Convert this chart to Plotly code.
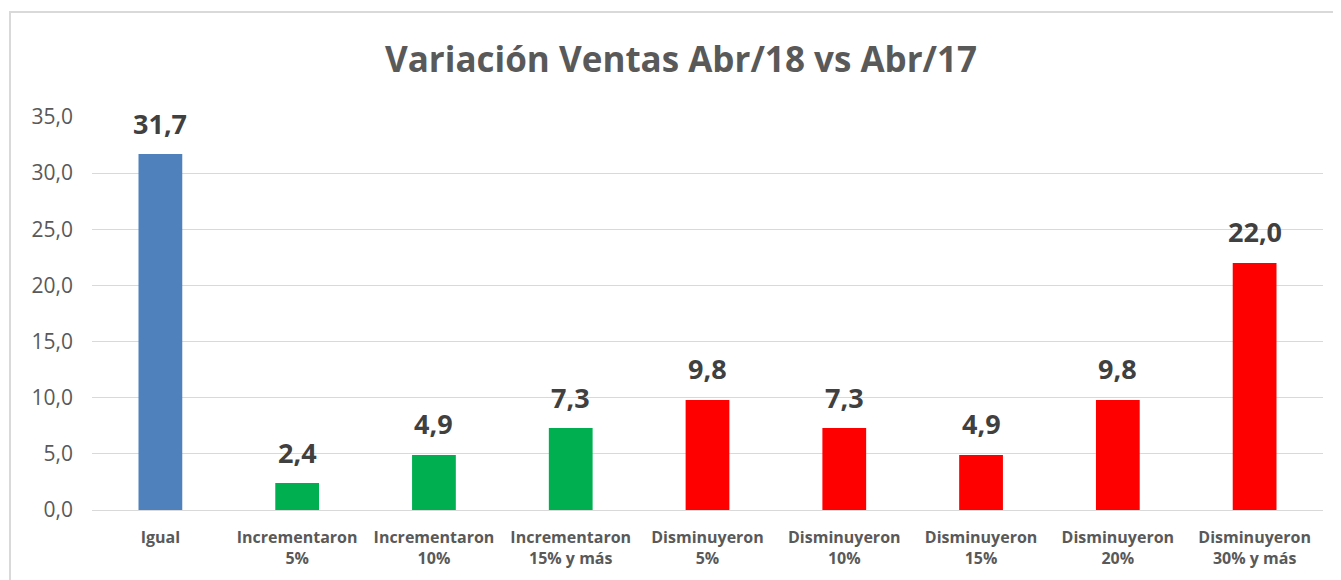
import plotly.graph_objects as go

categories = ["Igual", "Incrementaron<br>5%", "Incrementaron<br>10%", "Incrementaron<br>15% y más",
              "Disminuyeron<br>5%", "Disminuyeron<br>10%", "Disminuyeron<br>15%",
              "Disminuyeron<br>20%", "Disminuyeron<br>30% y más"]
values = [31.7, 2.4, 4.9, 7.3, 9.8, 7.3, 4.9, 9.8, 22.0]
colors = ["#4F81BD", "#00B050", "#00B050", "#00B050", "#FF0000", "#FF0000", "#FF0000", "#FF0000", "#FF0000"]
title = "Variación Ventas Abr/18 vs Abr/17"

W, H = 1341, 580
ml, mr, mt, mb = 84, 26, 109, 78
pw, ph = W - ml - mr, H - mt - mb
FONT = "Open Sans"

fig = go.Figure(go.Bar(x=categories, y=values, marker=dict(color=colors, line=dict(width=0)),
                       hoverinfo="x+y"))

for c, v in zip(categories, values):
    fig.add_annotation(x=c, y=v, text=f"<b>{v:.1f}</b>".replace(".", ","), showarrow=False,
                       yanchor="middle", yshift=31,
                       font=dict(family=FONT, size=27, color="#404040"))

fig.add_shape(type="rect", xref="paper", yref="paper",
              x0=(2 - ml) / pw, x1=(W + 40 - ml) / pw,
              y0=-(H + 40 - mt - ph) / ph, y1=1 + (mt - 4) / ph,
              line=dict(color="#D9D9D9", width=2), fillcolor="rgba(0,0,0,0)", layer="below")

fig.update_layout(
    width=W, height=H,
    margin=dict(l=ml, r=mr, t=mt, b=mb),
    paper_bgcolor="white", plot_bgcolor="white",
    bargap=0.68,
    separators=",.",
    title=dict(text=f"<b>{title}</b>", x=673 / W, xref="container", xanchor="center",
               y=1 - 52 / H, yanchor="middle",
               font=dict(family=FONT, size=35, color="#595959")),
    xaxis=dict(tickfont=dict(family=FONT, size=16, color="#595959", weight="bold"),
               showgrid=False, showline=False, ticks="", fixedrange=True,
               ticklabelstandoff=16),
    yaxis=dict(range=[0, 35], dtick=5, tickformat=".1f", showgrid=True, gridcolor="#D9D9D9",
               gridwidth=1, zeroline=True, zerolinecolor="#D9D9D9", zerolinewidth=1,
               tickfont=dict(family=FONT, size=21, color="#595959"), ticks="",
               ticklabelstandoff=18, showline=False),
    showlegend=False,
)

fig.write_html("out.html")
